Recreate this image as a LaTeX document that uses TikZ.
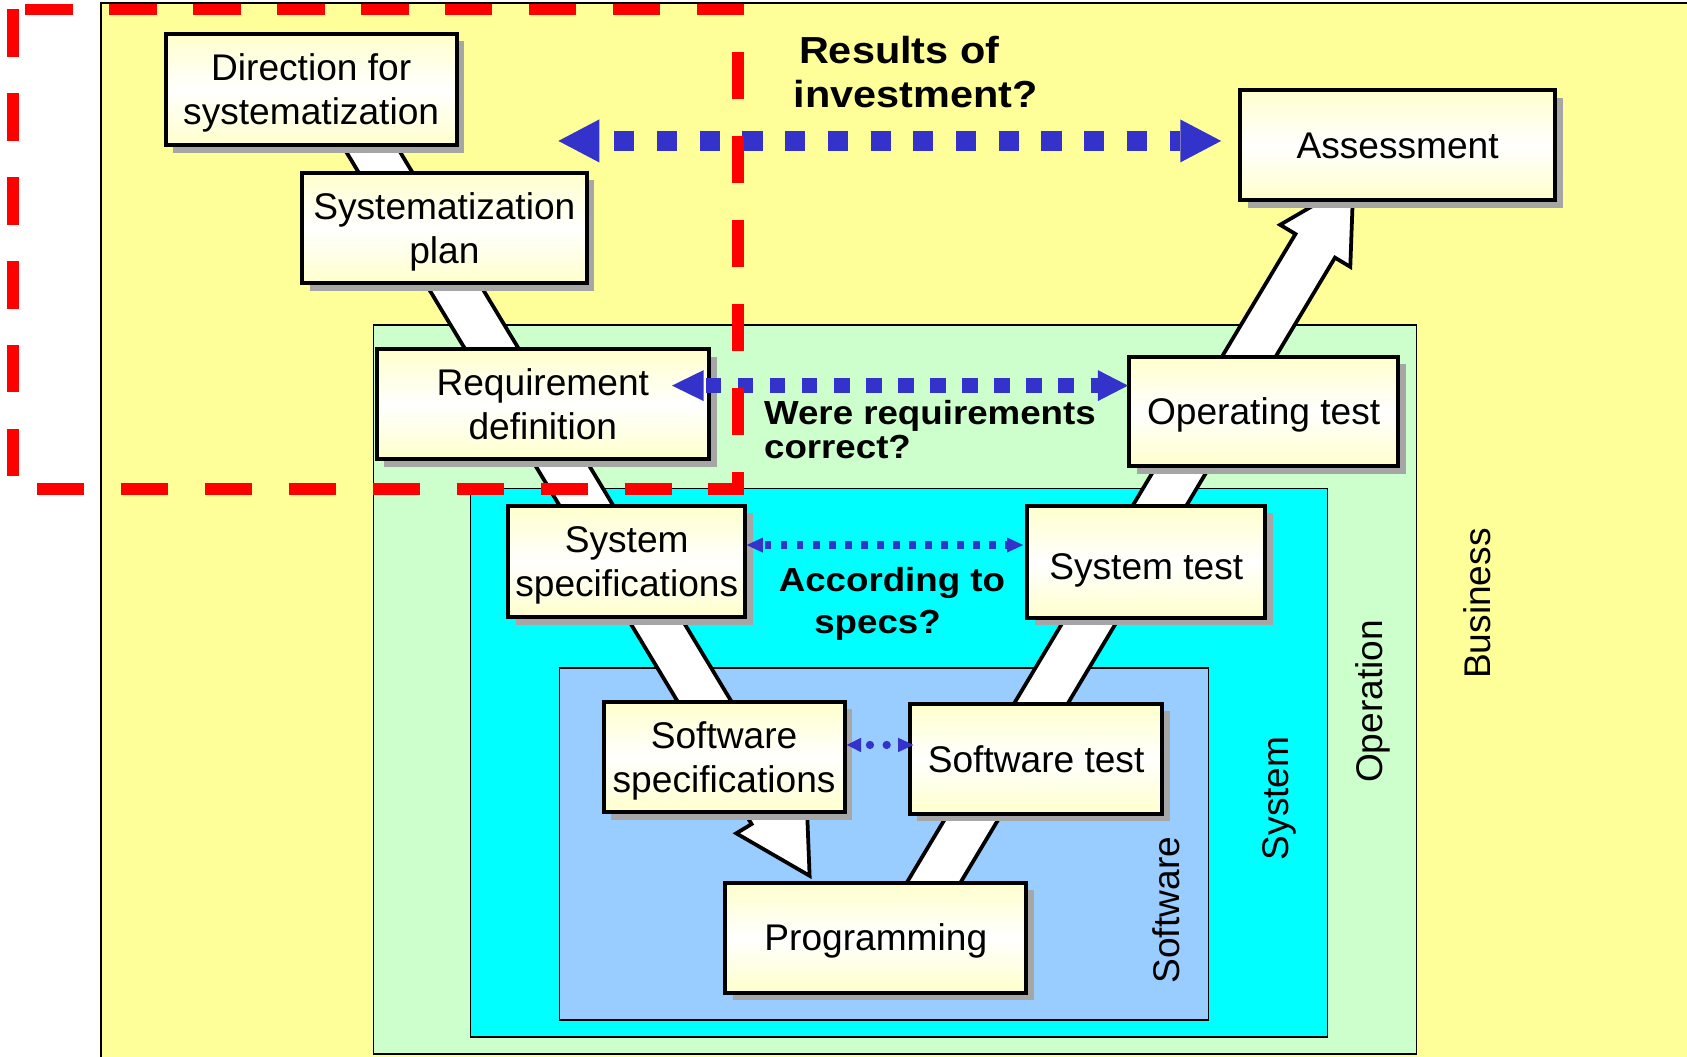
\documentclass[tikz,border=0pt]{standalone}
\usepackage{fontspec}
\setmainfont{Liberation Sans}
\newfontfamily\questionfont{Liberation Sans}[FakeStretch=1.1]
\usetikzlibrary{calc,shadows}

\definecolor{bgyellow}{RGB}{255,255,153}
\definecolor{opgreen}{RGB}{204,255,204}
\definecolor{syscyan}{RGB}{0,255,255}
\definecolor{swblue}{RGB}{153,204,255}
\definecolor{boxyellow}{RGB}{255,255,204}
\definecolor{shadowgray}{RGB}{166,166,166}
\definecolor{linkblue}{RGB}{51,51,204}
\definecolor{scopered}{RGB}{255,0,0}

\begin{document}
\begin{tikzpicture}[x=1pt,y=-1pt,
  stagebox/.style={draw=black, line width=3.7pt, top color=boxyellow,
    bottom color=boxyellow, middle color=white, align=center, inner sep=0pt,
    font=\fontsize{34.5}{41}\selectfont, text height=24.8pt, text depth=0pt,
    drop shadow={shadow xshift=7pt, shadow yshift=-7pt, opacity=1, fill=shadowgray}},
  twolines/.style={text height=65.8pt},
  area/.style={draw=black, line width=1.3pt},
  arealabel/.style={rotate=90, anchor=base, inner sep=0pt,
    font=\fontsize{34.5}{41}\selectfont},
  question/.style={inner sep=0pt},
  vband/.style={fill=white, draw=black, line width=3.5pt, line join=miter},
  dotlink/.style={draw=linkblue, line cap=butt},
  linkhead/.style={fill=linkblue},
]
\useasboundingbox (0,0) rectangle (1568,982);
\fill[white] (0,0) rectangle (1568,982);

% nested scopes: business > operation > system > software
\filldraw[fill=bgyellow, draw=black, line width=1.6pt] (94,3) rectangle (1600,1010);
\filldraw[fill=opgreen, area] (347,302) rectangle (1316.5,979.5);
\filldraw[fill=syscyan, area] (437.3,454) rectangle (1234,964);
\filldraw[fill=swblue, area] (520.3,621) rectangle (1123,948);

\node[arealabel] (lblBusiness) at (1385,561) {Business};
\node[arealabel] (lblOperation) at (1285,652) {Operation};
\node[arealabel] (lblSystem) at (1198,742) {System};
\node[arealabel] (lblSoftware) at (1096,846) {Software};

% the V: descending band down to programming, ascending band up to assessment
\coordinate (downStart) at (322,100);
\coordinate (downTip) at (752.5,814);
\coordinate (downNeck) at ($(downTip)!69pt!(downStart)$);
\filldraw[vband]
  ($(downStart)!21.4pt!90:(downTip)$) -- ($(downNeck)!21.4pt!90:(downTip)$)
  -- ($(downNeck)!38pt!90:(downTip)$) -- (downTip)
  -- ($(downNeck)!38pt!-90:(downTip)$) -- ($(downNeck)!21.4pt!-90:(downTip)$)
  -- ($(downStart)!21.4pt!-90:(downTip)$) -- cycle;

\coordinate (upStart) at (844,860);
\coordinate (upTip) at (1257.9,169.3);
\coordinate (upNeck) at ($(upTip)!69pt!(upStart)$);
\filldraw[vband]
  ($(upStart)!21.4pt!90:(upTip)$) -- ($(upNeck)!21.4pt!90:(upTip)$)
  -- ($(upNeck)!38pt!90:(upTip)$) -- (upTip)
  -- ($(upNeck)!38pt!-90:(upTip)$) -- ($(upNeck)!21.4pt!-90:(upTip)$)
  -- ($(upStart)!21.4pt!-90:(upTip)$) -- cycle;

% process stages
\node[stagebox, twolines, minimum width=270.3pt, minimum height=103.5pt] (dir) at (289.2,83.05) {Direction for\\systematization};
\node[stagebox, twolines, minimum width=264.6pt, minimum height=102.8pt] (plan) at (413,211.9) {Systematization\\plan};
\node[stagebox, twolines, minimum width=309pt, minimum height=102pt] (req) at (504.5,375.6) {Requirement\\definition};
\node[stagebox, twolines, minimum width=220pt, minimum height=103.5pt] (sysspec) at (582.5,521.8) {System\\specifications};
\node[stagebox, twolines, minimum width=224pt, minimum height=102.5pt] (swspec) at (673,703.5) {Software\\specifications};
\node[stagebox, minimum width=280pt, minimum height=102.5pt] (prog) at (814,871.5) {Programming};
\node[stagebox, minimum width=234.5pt, minimum height=102.5pt] (swtest) at (963,705.2) {Software test};
\node[stagebox, minimum width=221.3pt, minimum height=104.3pt, text height=32.8pt] (systest) at (1065.4,522.2) {System test};
\node[stagebox, minimum width=249.8pt, minimum height=101.6pt] (optest) at (1174.5,382.3) {Operating test};
\node[stagebox, minimum width=292.8pt, minimum height=102.3pt] (assess) at (1299,134.8) {Assessment};

% questions (anchored on the baseline of their last line)
\node[question, anchor=base west, align=left,
  font=\questionfont\bfseries\fontsize{35}{41}\selectfont] (qInvest) at (737.7,99.8) {\hspace*{4.8pt}Results of\\investment?};
\node[question, anchor=base west, align=left,
  font=\questionfont\bfseries\fontsize{31}{31.6}\selectfont] (qReq) at (710,426.6) {Were requirements\\correct?};
\node[question, anchor=base, align=center,
  font=\questionfont\bfseries\fontsize{31}{39}\selectfont] (qSpec) at (829,589) {According to\\specs?\hspace*{26.8pt}};

% verification links
\coordinate (invL) at (519,131);
\coordinate (invR) at (1135,131);
\draw[dotlink, line width=19pt, dash pattern=on 18.7pt off 21pt, dash phase=25.7pt]
  ([xshift=38pt]invL) -- ([xshift=-38pt]invR);
\fill[linkhead] (invL) -- ++(38,-20) -- ++(0,40) -- cycle;
\fill[linkhead] (invR) -- ++(-38,-20) -- ++(0,40) -- cycle;

\coordinate (reqL) at (624.6,358.4);
\coordinate (optR) at (1048.4,358.4);
\draw[dotlink, line width=14.3pt, dash pattern=on 14.4pt off 15.4pt, dash phase=27.8pt]
  ([xshift=29.4pt]reqL) -- ([xshift=-28pt]optR);
\fill[linkhead] (reqL) -- ++(29.4,-14.4) -- ++(0,28.8) -- cycle;
\fill[linkhead] (optR) -- ++(-28,-14.4) -- ++(0,28.8) -- cycle;

\coordinate (specL) at (694,506.6);
\coordinate (specR) at (951,506.6);
\draw[dotlink, line width=7.4pt, dash pattern=on 6pt off 8.9pt, dash phase=12.9pt]
  ([xshift=15pt]specL) -- ([xshift=-15pt]specR);
\fill[linkhead] (specL) -- ++(15,-7) -- ++(0,14) -- cycle;
\fill[linkhead] (specR) -- ++(-15,-7) -- ++(0,14) -- cycle;

\coordinate (swL) at (787,692.4);
\coordinate (swR) at (849,692.4);
\draw[draw=linkblue, line width=7.7pt, line cap=round, dash pattern=on 0pt off 15.5pt, dash phase=7.2pt]
  ([xshift=13.3pt]swL) -- ([xshift=-14.3pt]swR);
\fill[linkhead] (swL) -- ++(13.3,-6.7) -- ++(0,13.4) -- cycle;
\fill[linkhead] (swR) -- ++(-14.3,-6.7) -- ++(0,13.4) -- cycle;

% planning phase frame
\draw[draw=scopered, line width=11pt, dash pattern=on 44pt off 34pt]
  (12.3,8.8) -- (12.3,454.6) -- (686.2,454.6) -- (686.2,8.8) -- cycle;
\end{tikzpicture}
\end{document}
